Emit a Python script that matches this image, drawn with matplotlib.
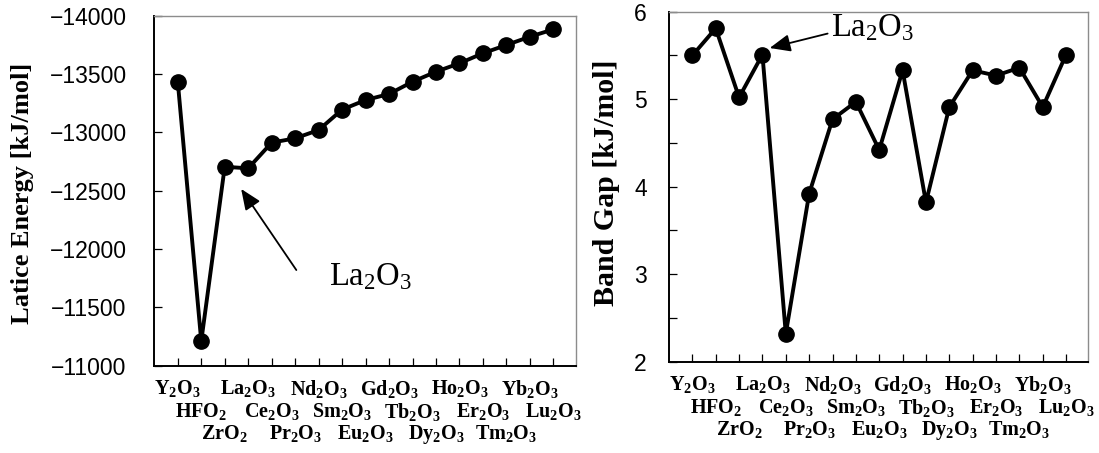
import matplotlib
matplotlib.use('Agg')
import matplotlib.pyplot as plt
from matplotlib.ticker import MultipleLocator, FixedLocator

# ---------------- data ----------------
compounds = ['Y_2O_3', 'HFO_2', 'ZrO_2', 'La_2O_3', 'Ce_2O_3', 'Pr_2O_3',
             'Nd_2O_3', 'Sm_2O_3', 'Eu_2O_3', 'Gd_2O_3', 'Tb_2O_3', 'Dy_2O_3',
             'Ho_2O_3', 'Er_2O_3', 'Tm_2O_3', 'Yb_2O_3', 'Lu_2O_3']
lattice_energy = [-13434, -11210, -12705, -12692, -12912, -12949, -13020,
                  -13195, -13277, -13329, -13434, -13520, -13592, -13678,
                  -13749, -13820, -13883]
band_gap = [5.50, 5.81, 5.02, 5.51, 2.32, 3.92, 4.77, 4.97, 4.42, 5.33,
            3.82, 4.91, 5.33, 5.27, 5.36, 4.91, 5.51]
le_ticks = [-14000, -13500, -13000, -12500, -12000, -11500, -11000]
bg_ticks = [2, 3, 4, 5, 6]
annot_label = r'$\mathrm{La_2O_3}$'

plt.rcParams['mathtext.fontset'] = 'custom'
plt.rcParams['mathtext.rm'] = 'Liberation Serif'
plt.rcParams['mathtext.bf'] = 'Liberation Serif:bold'
plt.rcParams['mathtext.it'] = 'Liberation Serif:italic'

W, H = 1099, 453
fig = plt.figure(figsize=(W / 100, H / 100), dpi=100)

def px_axes(x0, y0, x1, y1):
    return fig.add_axes([x0 / W, 1 - y1 / H, (x1 - x0) / W, (y1 - y0) / H])

ax1 = px_axes(154.3, 15.7, 575.7, 365.7)
ax2 = px_axes(669.0, 11.7, 1088.3, 361.7)

x = list(range(len(compounds)))
xlabels = [r'$\mathbf{' + c + '}$' for c in compounds]

def style(ax, values, ylab, tickpad, labsize):
    ax.plot(x, values, color='black', lw=2.8, marker='o', ms=11,
            markerfacecolor='black', markeredgecolor='black', zorder=3)
    ax.set_xlim(-1, 16.95)
    ax.set_xticks(x)
    ax.set_xticklabels(xlabels, fontsize=14.5)
    ax.tick_params(axis='x', direction='in', length=6, width=0.9)
    for i, t in enumerate(ax.xaxis.get_major_ticks()):
        t.set_pad(9 + (i % 3) * 16.2)
    ax.tick_params(axis='y', which='both', direction='in', length=6,
                   width=0.9, pad=tickpad, labelsize=16.5)
    for s in ('left', 'bottom'):
        ax.spines[s].set_color('black')
        ax.spines[s].set_linewidth(1.4)
    for s in ('top', 'right'):
        ax.spines[s].set_color('#8c8c8c')
        ax.spines[s].set_linewidth(1.0)
    ax.set_ylabel(ylab, fontsize=labsize, fontweight='bold',
                  family='Liberation Serif')

ax1.set_ylim(-11000, -14000)
ax1.yaxis.set_major_locator(FixedLocator(le_ticks))
style(ax1, lattice_energy, 'Latice Energy [kJ/mol]', 20, 19)
ax1.yaxis.set_label_coords(-0.285, 0.492)

ax2.set_ylim(2, 6)
ax2.yaxis.set_major_locator(FixedLocator(bg_ticks))
ax2.yaxis.set_minor_locator(MultipleLocator(0.5))
style(ax2, band_gap, 'Band Gap [kJ/mol]', 16, 21.5)
ax2.yaxis.set_label_coords(-0.118, 0.51)

for lab in ax1.get_yticklabels() + ax2.get_yticklabels():
    lab.set_family('Liberation Sans')

arrow = dict(arrowstyle='-|>,head_length=0.9,head_width=0.38', lw=1.3,
             color='black', mutation_scale=14, shrinkA=0, shrinkB=0)
ax1.annotate('', xy=(2.70, -12515), xytext=(5.05, -11820), arrowprops=arrow)
ax1.text(6.43, -11692, annot_label, fontsize=23.5, va='baseline', ha='left')

ax2.annotate('', xy=(3.31, 5.585), xytext=(5.79, 5.75), arrowprops=arrow)
ax2.text(5.95, 5.72, annot_label, fontsize=23.5, va='baseline', ha='left')

fig.savefig('out.png', dpi=100)
